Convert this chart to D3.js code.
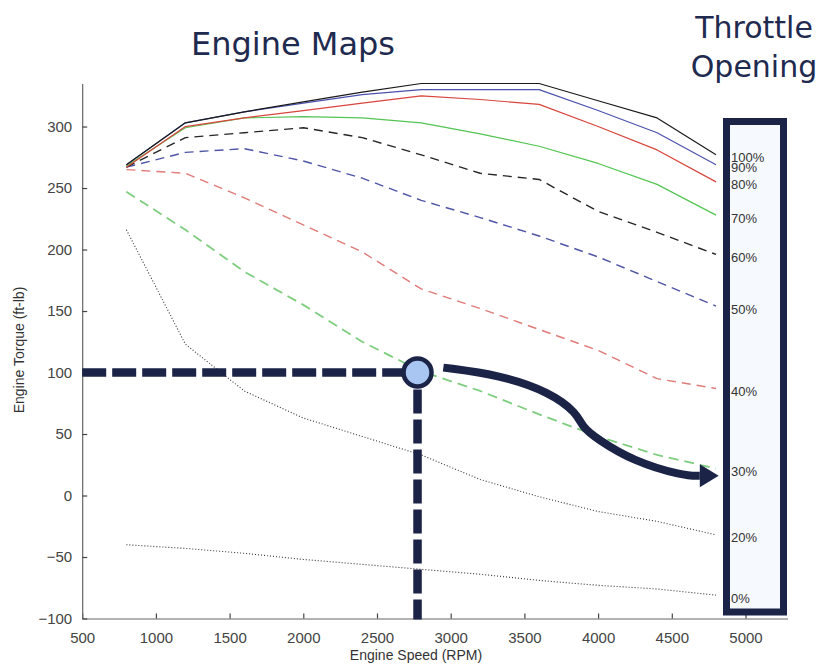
<!DOCTYPE html>
<html>
<head>
<meta charset="utf-8">
<script src="https://cdn.jsdelivr.net/npm/d3@7/dist/d3.min.js"></script>
<style>
  html, body { margin: 0; padding: 0; background: #fff; }
  svg { display: block; }
</style>
</head>
<body>
<svg id="chart" width="822" height="668"></svg>
<script>
// Engine speed sample points (RPM)
const rpm = [800, 1200, 1600, 2000, 2400, 2800, 3200, 3600, 4000, 4400, 4800];

// Torque (ft-lb) at each throttle opening
const torque100 = [269, 303, 312, 320, 328, 335, 335, 335, 321, 307, 277];
const torque90  = [269, 303, 312, 319, 326, 330, 330, 330, 313, 295, 269];
const torque80  = [267, 300, 307, 313, 319, 325, 322, 318, 300, 281, 255];
const torque70  = [268, 299, 307, 308, 307, 303, 294, 284, 270, 253, 228];
const torque60  = [267, 291, 295, 299, 291, 277, 262, 257, 231, 214, 196];
const torque50  = [267, 279, 282, 272, 258, 240, 226, 211, 194, 174, 154];
const torque40  = [265, 262, 242, 220, 198, 168, 152, 135, 118, 95, 87];
const torque30  = [247, 216, 182, 155, 125, 101, 85, 66, 48, 33, 22];
const torque20  = [216, 123, 85, 63, 48, 33, 13, -1, -13, -21, -32];
const torque0   = [-40, -43, -47, -52, -56, -60, -64, -69, -73, -76, -81];

const throttleLabels = ["100%", "90%", "80%", "70%", "60%", "50%", "40%", "30%", "20%", "0%"];

// Axis ticks
const xTicks = [500, 1000, 1500, 2000, 2500, 3000, 3500, 4000, 4500, 5000];
const yTicks = [-100, -50, 0, 50, 100, 150, 200, 250, 300];

// Operating point and the path toward the 30% curve
const operatingPoint = [2775, 100];
const arrowRoute = [[2950, 104], [3335, 98], [3674, 84], [3857, 67], [3891, 56],
                    [3993, 46], [4237, 28], [4576, 16], [4690, 16]];
const arrowTip = [4818, 16];

// Line styles per throttle setting
const styles = [
  { color: "#1a1a1a", dash: null,  width: 1.2 },
  { color: "#4a52ad", dash: null,  width: 1.2 },
  { color: "#d8453c", dash: null,  width: 1.2 },
  { color: "#52c552", dash: null,  width: 1.2 },
  { color: "#262626", dash: "9,6", width: 1.4 },
  { color: "#4f55a6", dash: "9,6", width: 1.4 },
  { color: "#e07b78", dash: "9,6", width: 1.4 },
  { color: "#7fcd7f", dash: "10,6", width: 1.8 },
  { color: "#333333", dash: "1,2", width: 1.1 },
  { color: "#333333", dash: "1,2", width: 1.1 }
];

const seriesValues = [torque100, torque90, torque80, torque70, torque60,
                      torque50, torque40, torque30, torque20, torque0];

const series = seriesValues.map((vals, i) => ({
  label: throttleLabels[i],
  style: styles[i],
  points: rpm.map((r, j) => [r, vals[j]])
}));

const svg = d3.select("#chart");
const navy = "#1b2346";
const axisColor = "#666";

const x = d3.scaleLinear().domain([500, 5285]).range([82.2, 787.5]);
const y = d3.scaleLinear().domain([-100, 335]).range([618.5, 83.5]);

// Titles
svg.append("text")
  .attr("x", 293).attr("y", 55)
  .attr("text-anchor", "middle")
  .attr("font-family", "DejaVu Sans")
  .attr("font-size", 32)
  .attr("fill", "#1f2a4f")
  .text("Engine Maps");

svg.append("text")
  .attr("x", 754).attr("y", 38)
  .attr("text-anchor", "middle")
  .attr("font-family", "DejaVu Sans")
  .attr("font-size", 30)
  .attr("fill", "#1f2a4f")
  .text("Throttle");

svg.append("text")
  .attr("x", 754).attr("y", 77)
  .attr("text-anchor", "middle")
  .attr("font-family", "DejaVu Sans")
  .attr("font-size", 30)
  .attr("fill", "#1f2a4f")
  .text("Opening");

// Axes (ticks point inward)
const xAxis = d3.axisBottom(x).tickValues(xTicks).tickSize(-5).tickPadding(14)
  .tickSizeOuter(0).tickFormat(d3.format("d"));
const yAxis = d3.axisLeft(y).tickValues(yTicks).tickSize(-5).tickPadding(10)
  .tickSizeOuter(0).tickFormat(d3.format("d"));

const gx = svg.append("g").attr("transform", `translate(0,${y(-100)})`).call(xAxis);
const gy = svg.append("g").attr("transform", `translate(${x(500)},0)`).call(yAxis);

[gx, gy].forEach(g => {
  g.select(".domain").attr("stroke", axisColor).attr("stroke-width", 1.2);
  g.selectAll(".tick line").attr("stroke", "#444").attr("stroke-width", 1.2);
  g.selectAll(".tick text")
    .attr("font-family", "Liberation Sans, Arial, sans-serif")
    .attr("font-size", 15)
    .attr("fill", "#444");
});

// Axis titles
svg.append("text")
  .attr("x", 416).attr("y", 660)
  .attr("text-anchor", "middle")
  .attr("font-family", "Liberation Sans, Arial, sans-serif")
  .attr("font-size", 14)
  .attr("fill", "#333")
  .text("Engine Speed (RPM)");

svg.append("text")
  .attr("transform", "translate(24,350) rotate(-90)")
  .attr("text-anchor", "middle")
  .attr("font-family", "Liberation Sans, Arial, sans-serif")
  .attr("font-size", 14)
  .attr("fill", "#333")
  .text("Engine Torque (ft-lb)");

// Torque curves, drawn from lowest throttle up so the full-load line sits on top
const line = d3.line().x(d => x(d[0])).y(d => y(d[1]));

svg.append("g")
  .selectAll("path")
  .data(series.slice().reverse())
  .join("path")
  .attr("d", d => line(d.points))
  .attr("fill", "none")
  .attr("stroke", d => d.style.color)
  .attr("stroke-width", d => d.style.width)
  .attr("stroke-dasharray", d => d.style.dash)
  .attr("stroke-linejoin", "round");

// Throttle legend frame
const frame = { left: 726.5, top: 121.5, right: 783.5, bottom: 612 };
svg.append("rect")
  .attr("x", frame.left).attr("y", frame.top)
  .attr("width", frame.right - frame.left)
  .attr("height", frame.bottom - frame.top)
  .attr("fill", "#f6f9fd")
  .attr("stroke", navy)
  .attr("stroke-width", 7);

svg.append("g")
  .selectAll("text")
  .data(series)
  .join("text")
  .attr("x", 731)
  .attr("y", d => y(d.points[d.points.length - 1][1]) + 3)
  .attr("dy", "0.35em")
  .attr("font-family", "Liberation Sans, Arial, sans-serif")
  .attr("font-size", 13)
  .attr("fill", "#333")
  .text(d => d.label);

// Operating point guides
const guide = svg.append("g")
  .attr("stroke", navy)
  .attr("stroke-width", 8.5)
  .attr("stroke-dasharray", "24,6")
  .attr("fill", "none");

guide.append("line")
  .attr("x1", x(500)).attr("y1", y(operatingPoint[1]))
  .attr("x2", x(operatingPoint[0])).attr("y2", y(operatingPoint[1]));

guide.append("line")
  .attr("x1", x(operatingPoint[0])).attr("y1", y(operatingPoint[1]) + 17)
  .attr("x2", x(operatingPoint[0])).attr("y2", y(-100) + 1);

// Path from the operating point to the 30% curve
const arrowLine = d3.line().x(d => x(d[0])).y(d => y(d[1])).curve(d3.curveBasis);
const route = [[arrowRoute[0][0] - 0.001, arrowRoute[0][1]], ...arrowRoute];
svg.append("path")
  .attr("d", arrowLine(route))
  .attr("fill", "none")
  .attr("stroke", navy)
  .attr("stroke-width", 8)
  .attr("stroke-linecap", "butt");

// Arrowhead pointing from the end of the route to the tip
{
  const end = arrowRoute[arrowRoute.length - 1];
  const bx = x(end[0]), by = y(end[1]);
  const tx = x(arrowTip[0]), ty = y(arrowTip[1]);
  const len = Math.hypot(tx - bx, ty - by);
  const nx = -(ty - by) / len, ny = (tx - bx) / len;
  const half = 11.5;
  svg.append("path")
    .attr("d", `M${bx + nx * half},${by + ny * half}L${tx},${ty}L${bx - nx * half},${by - ny * half}Z`)
    .attr("fill", navy);
}

svg.append("circle")
  .attr("cx", x(operatingPoint[0]))
  .attr("cy", y(operatingPoint[1]))
  .attr("r", 14)
  .attr("fill", "#a9c5f2")
  .attr("stroke", navy)
  .attr("stroke-width", 4.5);
</script>
</body>
</html>
